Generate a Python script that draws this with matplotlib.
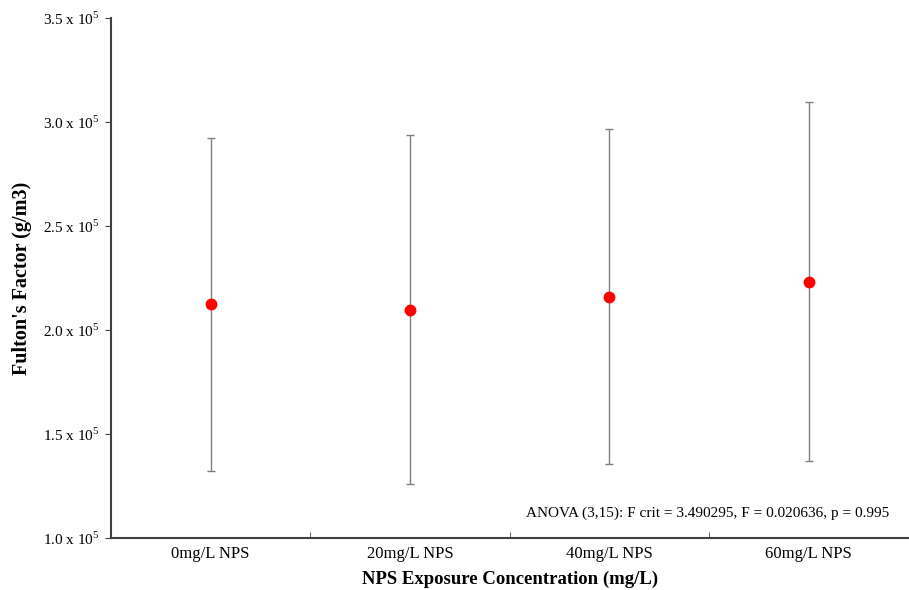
import matplotlib
matplotlib.use("Agg")
import matplotlib.pyplot as plt
from matplotlib.ticker import FixedLocator, NullFormatter

plt.rcParams['font.family'] = ['Liberation Serif', 'DejaVu Serif']
plt.rcParams['mathtext.fontset'] = 'custom'
plt.rcParams['mathtext.rm'] = 'Liberation Serif'

# data (units of 1e5 g/m3)
groups = ['0mg/L NPS', '20mg/L NPS', '40mg/L NPS', '60mg/L NPS']
means = [2.125, 2.098, 2.159, 2.232]
upper = [2.925, 2.937, 2.966, 3.098]
lower = [1.322, 1.258, 1.358, 1.372]
yticks = [1.0, 1.5, 2.0, 2.5, 3.0, 3.5]
anova_text = 'ANOVA (3,15): F crit = 3.490295, F = 0.020636, p = 0.995'

x = list(range(len(groups)))
err_lo = [m - l for m, l in zip(means, lower)]
err_hi = [u - m for m, u in zip(means, upper)]

fig = plt.figure(figsize=(9.09, 5.9), dpi=100)
ax = fig.add_axes([0.1221, 0.0881, 0.877, 0.8814])

ax.errorbar(x, means, yerr=[err_lo, err_hi], fmt='none', ecolor='#7f7f7f',
            elinewidth=1, capsize=3, capthick=1, zorder=2)
ax.plot(x, means, 'o', color='#ff0000', markersize=7.5, zorder=3)

ax.set_xlim(-0.5, len(groups) - 0.5)
ax.set_ylim(1.0, 3.5)

ax.set_yticks(yticks)
ax.set_yticklabels(['%.1f x 10$^5$' % v for v in yticks], fontsize=11)

ax.set_xticks(x)
ax.set_xticklabels(groups, fontsize=12)
ax.tick_params(axis='x', which='major', length=0, pad=6)
ax.xaxis.set_minor_locator(FixedLocator([0.5, 1.5, 2.5]))
ax.xaxis.set_minor_formatter(NullFormatter())
ax.tick_params(axis='x', which='minor', direction='in', length=4, color='#404040')
ax.tick_params(axis='y', direction='out', length=4, color='#404040', pad=4)

for side in ['top', 'right']:
    ax.spines[side].set_visible(False)
for side in ['left', 'bottom']:
    ax.spines[side].set_color('#404040')
    ax.spines[side].set_linewidth(1.5)

ax.set_xlabel('NPS Exposure Concentration (mg/L)', fontsize=13.5, fontweight='bold', labelpad=6)
ax.set_ylabel("Fulton's Factor (g/m3)", fontsize=14.5, fontweight='bold', labelpad=8)

ax.text(0.976, 0.048, anova_text, transform=ax.transAxes, ha='right', va='center', fontsize=11)

fig.savefig('out.png', dpi=100)
